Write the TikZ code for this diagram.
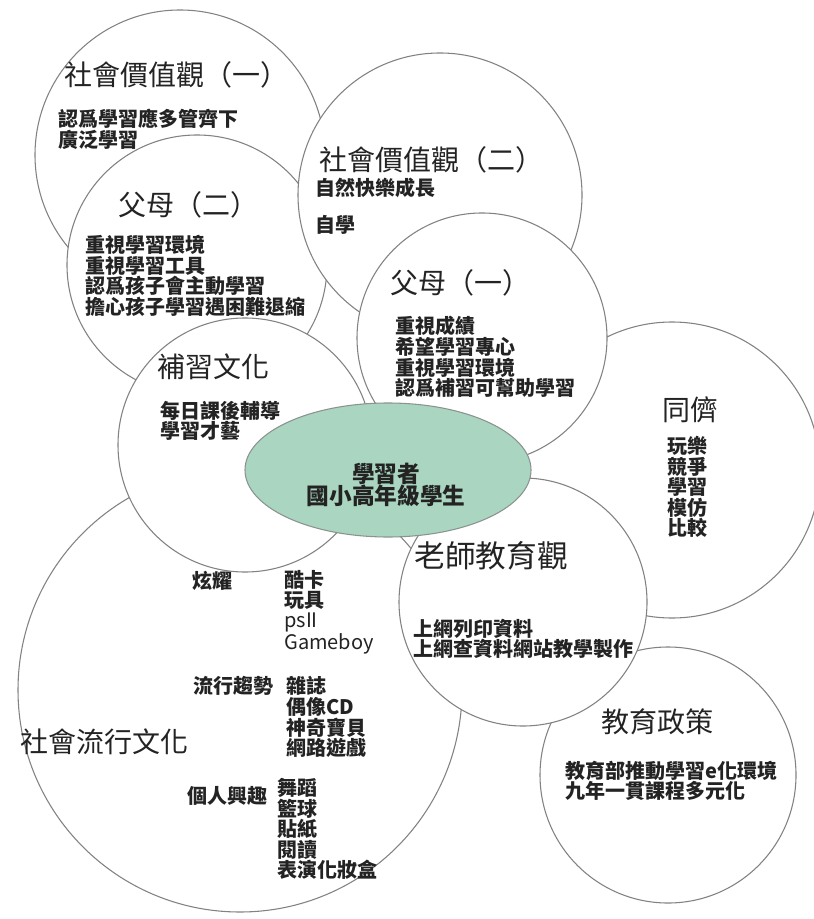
\documentclass[tikz,border=0pt]{standalone}
\usepackage{fontspec}
\setmainfont{Noto Sans CJK TC}
\usetikzlibrary{shapes.geometric}
\definecolor{rim}{RGB}{130,130,130}
\definecolor{mint}{RGB}{170,214,193}
\definecolor{ink}{RGB}{35,35,35}

\begin{document}
\begin{tikzpicture}
  [x = .75pt, y = -.75pt,
   bubble/.style = {circle, draw = rim, fill = white, line width = .8pt, inner sep = 0pt},
   heading/.style = {inner sep = 0pt, text = ink, font = \fontsize{21}{24}\selectfont},
   items/.style = {inner sep = 0pt, align = left, anchor = west, text = ink,
                   font = \fontsize{15}{14}\selectfont\bfseries}]
    \fill[white] (0,0) rectangle (813,919);
    \useasboundingbox (0,0) rectangle (813,919);

    \node[bubble, minimum size = 217.5pt] (s1) at (180,155) {};
    \node[heading] (s1t) at (176,75) {社會價值觀（一）};
    \node[items] (s1b) at (58,129.5) {認爲學習應多管齊下\\廣泛學習};

    \node[bubble, minimum size = 195pt] (p2) at (197,265) {};
    \node[heading] (p2t) at (188,205) {父母（二）};
    \node[items] (p2b) at (85,276) {重視學習環境\\重視學習工具\\認爲孩子會主動學習\\擔心孩子學習遇困難退縮};

    \node[bubble, minimum size = 213pt] (s2) at (440,195) {};
    \node[heading] (s2t) at (431,160) {社會價值觀（二）};
    \node[items] (s2b1) at (315,188) {自然快樂成長};
    \node[items] (s2b2) at (315,225) {自學};

    \node[bubble, minimum size = 222pt] (tp) at (672,470) {};
    \node[heading] (tpt) at (690,410) {同儕};
    \node[items] (tpb) at (667,487) {玩樂\\競爭\\學習\\模仿\\比較};

    \node[bubble, minimum size = 187.5pt] (p1) at (482,338) {};
    \node[heading] (p1t) at (460,283) {父母（一）};
    \node[items] (p1b) at (395,357) {重視成績\\希望學習專心\\重視學習環境\\認爲補習可幫助學習};

    \node[bubble, minimum size = 192pt] (jc) at (668,775) {};
    \node[heading] (jct) at (657,722) {教育政策};
    \node[items, font = \fontsize{15}{15}\selectfont\bfseries] (jcb) at (565,781) {教育部推動學習e化環境\\九年一貫課程多元化};

    \node[bubble, minimum size = 333pt] (lx) at (240,690) {};
    \node[heading, anchor = west] (lxt) at (20,742) {社會流行文化};
    \node[items] (lx1) at (192,581) {炫耀};
    \node[items, font = \fontsize{15}{15}\selectfont\bfseries] (lx1b) at (284,612) {酷卡\\玩具\\{\mdseries psII}\\{\mdseries Gameboy}};
    \node[items] (lx2) at (193,686) {流行趨勢};
    \node[items, font = \fontsize{15}{15.5}\selectfont\bfseries] (lx2b) at (286,717) {雜誌\\偶像CD\\神奇寶貝\\網路遊戲};
    \node[items] (lx3) at (187,796) {個人興趣};
    \node[items, font = \fontsize{15}{12.5}\selectfont\bfseries] (lx3b) at (277,829) {舞蹈\\籃球\\貼紙\\閱讀\\表演化妝盒};

    \node[bubble, minimum size = 190.5pt] (bx) at (245,445) {};
    \node[heading] (bxt) at (213,367) {補習文化};
    \node[items] (bxb) at (160,421) {每日課後輔導\\學習才藝};

    \node[bubble, minimum size = 186pt] (ls) at (523,602) {};
    \node[heading, font = \fontsize{23}{26}\selectfont] (lst) at (491,556) {老師教育觀};
    \node[items] (lsb) at (413,639) {上網列印資料\\上網查資料網站教學製作};

    \node[ellipse, draw = rim!80!mint, fill = mint, line width = .8pt,
          minimum width = 214.5pt, minimum height = 100.5pt] (me) at (388,470) {};
    \node[inner sep = 0pt, align = center, text = ink,
          font = \fontsize{17}{16.5}\selectfont\bfseries] (met) at (386,485) {學習者\\國小高年級學生};
  \end{tikzpicture}
\end{document}
